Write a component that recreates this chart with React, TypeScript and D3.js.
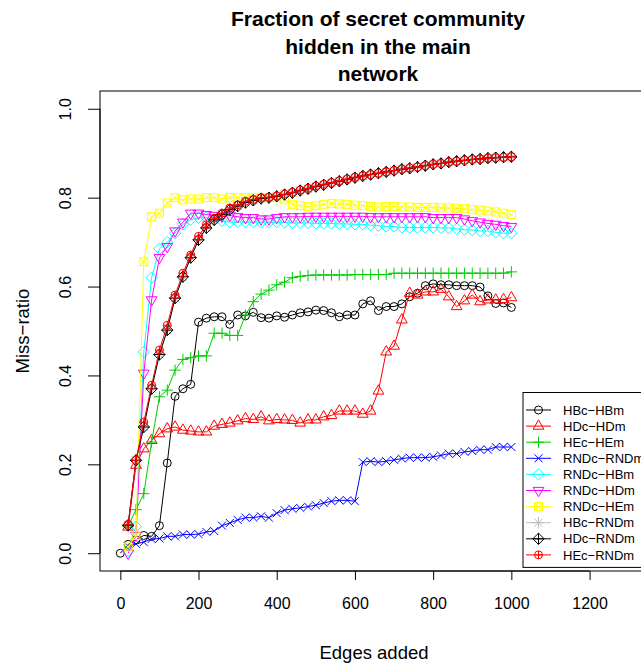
import React, { useEffect, useRef } from 'react';
import * as d3 from 'd3';

// edges added (x) - HBc-HBm also has a point at 0
const edges = [20, 40, 60, 80, 100, 120, 140, 160, 180, 200, 220, 240, 260, 280, 300, 320, 340, 360, 380, 400,
  420, 440, 460, 480, 500, 520, 540, 560, 580, 600, 620, 640, 660, 680, 700, 720, 740, 760, 780, 800,
  820, 840, 860, 880, 900, 920, 940, 960, 980, 1000];
const edgesHB = [0, ...edges];

const hbcHbm = [0.0, 0.02, 0.03, 0.04, 0.038, 0.062, 0.203, 0.353, 0.37, 0.38, 0.52,
  0.529, 0.532, 0.532, 0.515, 0.536, 0.534, 0.542, 0.53, 0.529, 0.534,
  0.531, 0.536, 0.541, 0.543, 0.547, 0.546, 0.541, 0.532, 0.536, 0.536,
  0.561, 0.568, 0.546, 0.555, 0.555, 0.561, 0.577, 0.585, 0.602, 0.606,
  0.604, 0.604, 0.602, 0.602, 0.602, 0.599, 0.579, 0.562, 0.563, 0.553];
const hdcHdm = [0.059, 0.198, 0.235, 0.254, 0.269, 0.28, 0.284, 0.277, 0.275, 0.273,
  0.273, 0.286, 0.29, 0.293, 0.298, 0.303, 0.301, 0.307, 0.298, 0.301,
  0.30, 0.299, 0.293, 0.30, 0.30, 0.307, 0.31, 0.32, 0.32, 0.32,
  0.313, 0.32, 0.365, 0.453, 0.466, 0.525, 0.585, 0.581, 0.588, 0.588,
  0.594, 0.577, 0.555, 0.568, 0.581, 0.566, 0.57, 0.57, 0.571, 0.575];
const hecHem = [0.06, 0.098, 0.134, 0.25, 0.352, 0.367, 0.412, 0.436, 0.44, 0.444,
  0.444, 0.495, 0.495, 0.49, 0.49, 0.536, 0.566, 0.583, 0.592, 0.604,
  0.61, 0.62, 0.623, 0.625, 0.626, 0.626, 0.626, 0.626, 0.626, 0.627,
  0.627, 0.627, 0.627, 0.627, 0.63, 0.63, 0.63, 0.63, 0.63, 0.63,
  0.63, 0.63, 0.63, 0.63, 0.63, 0.63, 0.63, 0.63, 0.63, 0.633];
const rndcRndm = [0.015, 0.021, 0.025, 0.032, 0.033, 0.038, 0.038, 0.042, 0.042, 0.043,
  0.048, 0.05, 0.062, 0.068, 0.075, 0.08, 0.08, 0.083, 0.08, 0.09,
  0.097, 0.10, 0.102, 0.105, 0.108, 0.113, 0.117, 0.119, 0.119, 0.117,
  0.205, 0.207, 0.205, 0.207, 0.21, 0.213, 0.215, 0.215, 0.215, 0.217,
  0.22, 0.224, 0.224, 0.228, 0.23, 0.233, 0.233, 0.239, 0.239, 0.239];
const rndcHbm = [0.005, 0.06, 0.453, 0.62, 0.685, 0.70, 0.72, 0.74, 0.75, 0.755,
  0.755, 0.75, 0.748, 0.745, 0.745, 0.745, 0.745, 0.745, 0.745, 0.745,
  0.744, 0.743, 0.743, 0.743, 0.742, 0.742, 0.742, 0.741, 0.741, 0.74,
  0.74, 0.738, 0.737, 0.735, 0.735, 0.733, 0.733, 0.733, 0.733, 0.733,
  0.732, 0.732, 0.73, 0.728, 0.727, 0.725, 0.725, 0.722, 0.72, 0.72];
const rndcHdm = [0.0, 0.04, 0.405, 0.57, 0.665, 0.69, 0.725, 0.745, 0.765, 0.765,
  0.762, 0.76, 0.758, 0.76, 0.757, 0.755, 0.755, 0.752, 0.752, 0.755,
  0.757, 0.757, 0.757, 0.758, 0.758, 0.758, 0.758, 0.758, 0.758, 0.758,
  0.758, 0.757, 0.757, 0.757, 0.757, 0.757, 0.757, 0.757, 0.757, 0.755,
  0.755, 0.755, 0.755, 0.752, 0.748, 0.745, 0.742, 0.74, 0.737, 0.735];
const rndcHem = [0.014, 0.04, 0.656, 0.757, 0.765, 0.788, 0.80, 0.795, 0.797, 0.797,
  0.80, 0.80, 0.797, 0.80, 0.80, 0.80, 0.80, 0.80, 0.80, 0.80,
  0.795, 0.785, 0.782, 0.78, 0.782, 0.785, 0.787, 0.786, 0.785, 0.783,
  0.782, 0.78, 0.779, 0.78, 0.78, 0.779, 0.779, 0.778, 0.778, 0.778,
  0.777, 0.777, 0.776, 0.775, 0.773, 0.772, 0.77, 0.768, 0.765, 0.762];
const hbcRndm = [0.063, 0.209, 0.284, 0.37, 0.447, 0.502, 0.574, 0.622, 0.665, 0.705,
  0.732, 0.75, 0.762, 0.773, 0.781, 0.789, 0.794, 0.798, 0.80, 0.803,
  0.807, 0.811, 0.816, 0.82, 0.825, 0.829, 0.833, 0.837, 0.841, 0.845,
  0.849, 0.852, 0.855, 0.858, 0.861, 0.864, 0.866, 0.869, 0.872, 0.875,
  0.877, 0.88, 0.882, 0.884, 0.886, 0.887, 0.889, 0.89, 0.891, 0.892];
const hdcRndm = [0.063, 0.209, 0.284, 0.37, 0.447, 0.502, 0.574, 0.622, 0.665, 0.705,
  0.732, 0.75, 0.762, 0.773, 0.781, 0.789, 0.794, 0.798, 0.80, 0.803,
  0.807, 0.811, 0.816, 0.82, 0.825, 0.829, 0.833, 0.837, 0.841, 0.845,
  0.849, 0.852, 0.855, 0.858, 0.861, 0.864, 0.866, 0.869, 0.872, 0.875,
  0.877, 0.88, 0.882, 0.884, 0.886, 0.887, 0.889, 0.89, 0.891, 0.892];
const hecRndm = [0.065, 0.209, 0.295, 0.378, 0.457, 0.513, 0.581, 0.63, 0.671, 0.713,
  0.739, 0.754, 0.765, 0.777, 0.784, 0.792, 0.796, 0.80, 0.801, 0.804,
  0.808, 0.812, 0.817, 0.821, 0.826, 0.83, 0.834, 0.838, 0.842, 0.846,
  0.849, 0.852, 0.855, 0.858, 0.861, 0.864, 0.867, 0.869, 0.872, 0.875,
  0.877, 0.88, 0.882, 0.884, 0.886, 0.887, 0.889, 0.89, 0.891, 0.892];

const seriesNames = ['HBc\u2212HBm', 'HDc\u2212HDm', 'HEc\u2212HEm', 'RNDc\u2212RNDm', 'RNDc\u2212HBm',
  'RNDc\u2212HDm', 'RNDc\u2212HEm', 'HBc\u2212RNDm', 'HDc\u2212RNDm', 'HEc\u2212RNDm'];
const seriesValues = [hbcHbm, hdcHdm, hecHem, rndcRndm, rndcHbm, rndcHdm, rndcHem, hbcRndm, hdcRndm, hecRndm];
const seriesX = [edgesHB, edges, edges, edges, edges, edges, edges, edges, edges, edges];
const seriesColors = ['#000000', '#FF0000', '#00CD00', '#0000FF', '#00FFFF', '#FF00FF', '#FFFF00', '#BEBEBE', '#000000', '#FF0000'];
const seriesPch = [1, 2, 3, 4, 5, 6, 7, 8, 9, 10];

const xTicks = [0, 200, 400, 600, 800, 1000, 1200];
const yTicks = [0, 0.2, 0.4, 0.6, 0.8, 1.0];

const titleLines = ['Fraction of secret community', 'hidden in the main', 'network'];

// R-style plotting symbols, centered on 0,0
function symbolPath(pch: number, R: number): string {
  const p = d3.path();
  const circle = (r: number) => { p.moveTo(r, 0); p.arc(0, 0, r, 0, 2 * Math.PI); };
  const plus = (a: number) => { p.moveTo(-a, 0); p.lineTo(a, 0); p.moveTo(0, -a); p.lineTo(0, a); };
  const cross = (a: number) => { p.moveTo(-a, -a); p.lineTo(a, a); p.moveTo(-a, a); p.lineTo(a, -a); };
  const diamond = (a: number) => { p.moveTo(-a, 0); p.lineTo(0, -a); p.lineTo(a, 0); p.lineTo(0, a); p.closePath(); };
  const r = 1.5551 * R, xc = 1.3468 * R, yc = 0.7776 * R;
  switch (pch) {
    case 1: circle(R); break;
    case 2: p.moveTo(0, -r); p.lineTo(xc, yc); p.lineTo(-xc, yc); p.closePath(); break;
    case 3: plus(Math.SQRT2 * R); break;
    case 4: cross(R); break;
    case 5: diamond(Math.SQRT2 * R); break;
    case 6: p.moveTo(0, r); p.lineTo(xc, -yc); p.lineTo(-xc, -yc); p.closePath(); break;
    case 7: p.rect(-R, -R, 2 * R, 2 * R); cross(R); break;
    case 8: cross(R); plus(Math.SQRT2 * R); break;
    case 9: diamond(Math.SQRT2 * R); plus(Math.SQRT2 * R); break;
    case 10: circle(R); plus(R); break;
  }
  return p.toString();
}

const App = () => {
  const ref = useRef<SVGSVGElement>(null);

  useEffect(() => {
    const width = 641;
    const height = 665;
    const box = { left: 100, right: 649, top: 91, bottom: 571 };
    const font = '"Liberation Sans", Arial, Helvetica, sans-serif';
    const R = 4;
    const midX = 376;

    const svg = d3.select(ref.current);
    svg.selectAll('*').remove();
    svg.attr('width', width).attr('height', height);

    svg.append('rect').attr('width', width).attr('height', height).attr('fill', '#fff');

    const x = d3.scaleLinear().domain([-52, 1352]).range([box.left, box.right]);
    const y = d3.scaleLinear().domain([-0.04, 1.04]).range([box.bottom, box.top]);

    // title
    svg.append('g')
      .selectAll('text')
      .data(titleLines)
      .enter()
      .append('text')
      .attr('x', midX + 2)
      .attr('y', (d, i) => 26 + i * 27.5)
      .attr('text-anchor', 'middle')
      .attr('font-family', font)
      .attr('font-weight', 'bold')
      .attr('font-size', 21)
      .text(d => d);

    // series: line then symbols, drawn in order
    const plot = svg.append('g');
    seriesValues.forEach((vals, s) => {
      const xs = seriesX[s];
      const pts = vals.map((v, i) => [xs[i], v] as [number, number]);
      const line = d3.line<[number, number]>().x(d => x(d[0])).y(d => y(d[1]));
      plot.append('path')
        .attr('d', line(pts))
        .attr('fill', 'none')
        .attr('stroke', seriesColors[s])
        .attr('stroke-width', 1);
      plot.append('g')
        .selectAll('path')
        .data(pts)
        .enter()
        .append('path')
        .attr('transform', d => `translate(${x(d[0])},${y(d[1])})`)
        .attr('d', symbolPath(seriesPch[s], R))
        .attr('fill', 'none')
        .attr('stroke', seriesColors[s])
        .attr('stroke-width', 1);
    });

    // box
    svg.append('rect')
      .attr('x', box.left).attr('y', box.top)
      .attr('width', box.right - box.left).attr('height', box.bottom - box.top)
      .attr('fill', 'none').attr('stroke', '#000').attr('stroke-width', 1);

    // x axis
    const xAxis = svg.append('g')
      .attr('transform', `translate(0,${box.bottom})`)
      .call(d3.axisBottom(x).tickValues(xTicks).tickSize(9).tickPadding(18).tickFormat(d3.format('d')));
    xAxis.select('.domain').attr('d', `M${x(0)},0H${x(1200)}`);
    xAxis.selectAll('text').attr('font-size', 16).attr('font-family', font).attr('fill', '#000');

    // y axis
    const yAxis = svg.append('g')
      .attr('transform', `translate(${box.left},0)`)
      .call(d3.axisLeft(y).tickValues(yTicks).tickSize(12).tickFormat(() => ''));
    yAxis.select('.domain').attr('d', `M0,${y(0)}V${y(1)}`);
    yAxis.selectAll('.tick').append('text')
      .attr('transform', 'translate(-29,0) rotate(-90)')
      .attr('text-anchor', 'middle')
      .attr('font-size', 16)
      .attr('font-family', font)
      .attr('fill', '#000')
      .text((d: any) => d3.format('.1f')(d));

    // axis titles
    svg.append('text')
      .attr('x', midX - 2)
      .attr('y', 659)
      .attr('text-anchor', 'middle')
      .attr('font-family', font)
      .attr('font-size', 18.5)
      .text('Edges added');
    svg.append('text')
      .attr('transform', `translate(29,${(box.top + box.bottom) / 2}) rotate(-90)`)
      .attr('text-anchor', 'middle')
      .attr('font-family', font)
      .attr('font-size', 18.5)
      .text('Miss\u2212ratio');

    // legend
    const lg = { left: 523, top: 392.5, rowH: 16.1, firstRow: 410 };
    const legend = svg.append('g');
    legend.append('rect')
      .attr('x', lg.left).attr('y', lg.top)
      .attr('width', 140).attr('height', lg.firstRow - lg.top + 9 * lg.rowH + 12.5)
      .attr('fill', '#fff').attr('stroke', '#000').attr('stroke-width', 1);
    seriesNames.forEach((name, i) => {
      const ry = lg.firstRow + i * lg.rowH;
      legend.append('line')
        .attr('x1', lg.left + 3).attr('x2', lg.left + 28)
        .attr('y1', ry).attr('y2', ry)
        .attr('stroke', seriesColors[i]).attr('stroke-width', 1);
      legend.append('path')
        .attr('transform', `translate(${lg.left + 15.5},${ry})`)
        .attr('d', symbolPath(seriesPch[i], R))
        .attr('fill', 'none')
        .attr('stroke', seriesColors[i]);
      legend.append('text')
        .attr('x', lg.left + 40)
        .attr('y', ry)
        .attr('dy', '0.36em')
        .attr('font-family', font)
        .attr('font-size', 13)
        .text(name);
    });
  }, []);

  return (
    <svg ref={ref} style={{ position: 'absolute', left: 0, top: 0, display: 'block' }} />
  );
};

export default App;
